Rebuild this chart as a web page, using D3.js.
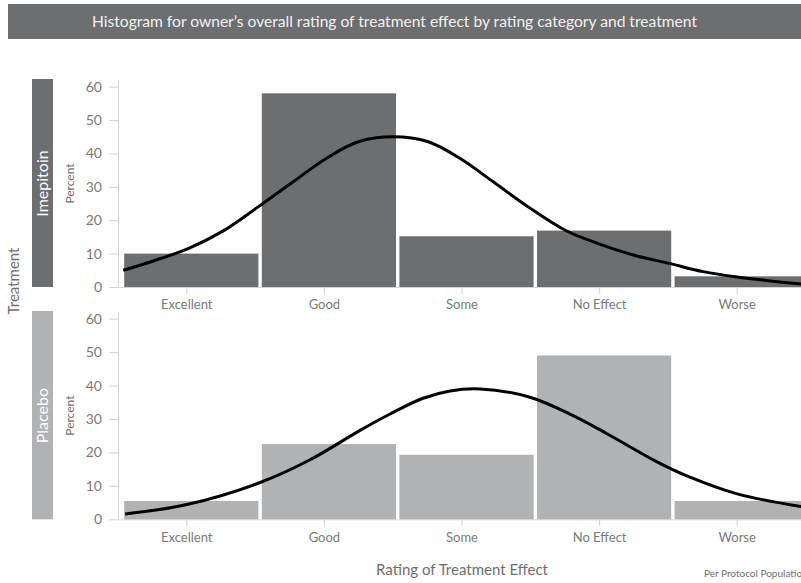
<!DOCTYPE html>
<html>
<head>
<meta charset="utf-8">
<script src="https://cdn.jsdelivr.net/npm/d3@7"></script>
<style>
  html, body { margin: 0; padding: 0; background: #fff; }
  svg { display: block; font-family: Lato, "Open Sans", sans-serif; }
</style>
</head>
<body>
<svg id="chart" width="801" height="583"></svg>
<script>
// Rating categories along the x axis
const categories = ["Excellent", "Good", "Some", "No Effect", "Worse"];

// Percent of owners per rating, one array per treatment group
const imepitoinPct = [10, 58, 15.2, 16.9, 3.2];
const placeboPct   = [5.5, 22.5, 19.3, 49, 5.5];

// Fitted curve, sampled along the rating scale (1 = Excellent ... 5 = Worse)
const imepitoinCurveX = [0.538, 0.756, 1.010, 1.265, 1.519, 1.773, 2.013, 2.246, 2.5, 2.754, 2.987, 3.227, 3.481, 3.75, 3.99, 4.244, 4.513, 4.753, 5.0, 5.465];
const imepitoinCurveY = [5.0, 7.8, 11.5, 16.8, 24, 31.5, 38.5, 43.5, 45, 43.5, 38.5, 31.5, 24, 17, 13, 9.6, 7.0, 4.6, 3.0, 0.9];
const placeboCurveX   = [0.552, 1.0, 1.533, 1.896, 2.259, 2.477, 2.717, 2.913, 3.131, 3.494, 3.807, 4.054, 4.417, 4.657, 5.0, 5.465];
const placeboCurveY   = [1.6, 4.4, 11.0, 17.8, 26.6, 31.5, 36.2, 38.4, 39.0, 36.5, 31.0, 25.6, 17.2, 12.6, 7.6, 3.8];

const yTicks = [0, 10, 20, 30, 40, 50, 60];

const panels = [
  { name: "Imepitoin", values: imepitoinPct, cx: imepitoinCurveX, cy: imepitoinCurveY,
    fill: "#6d6e70", top: 80, bottom: 287 },
  { name: "Placebo", values: placeboPct, cx: placeboCurveX, cy: placeboCurveY,
    fill: "#b1b2b4", top: 312, bottom: 519.3 }
];

const svg = d3.select("#chart");

// Title banner
svg.append("rect").attr("x", 8).attr("y", 4).attr("width", 793).attr("height", 35).attr("fill", "#6d6e70");
svg.append("text").attr("x", 92).attr("y", 27)
  .attr("fill", "#f2f2f2").attr("font-size", 15)
  .attr("textLength", 605).attr("lengthAdjust", "spacingAndGlyphs")
  .text("Histogram for owner\u2019s overall rating of treatment effect by rating category and treatment");

const left = 118, binW = 137.6;
const x = d3.scaleBand().domain(categories).range([left, left + binW * categories.length]).padding(0);
const xCurve = d3.scaleLinear().domain([0.5, categories.length + 0.5]).range([left, left + binW * categories.length]);

const axisGrey = "#d4d4d4", textGrey = "#7a7a7a";

panels.forEach(p => {
  const y = d3.scaleLinear().domain([0, 62]).range([p.bottom, p.top]);
  const g = svg.append("g");

  // Row strip label
  g.append("rect").attr("x", 32).attr("y", p.top - 1).attr("width", 21).attr("height", p.bottom - p.top + 1).attr("fill", p.fill);
  g.append("text")
    .attr("transform", `translate(48,${(p.top + p.bottom) / 2}) rotate(-90)`)
    .attr("text-anchor", "middle").attr("fill", "#fff").attr("font-size", 16)
    .text(p.name);

  // "Percent" label
  g.append("text")
    .attr("transform", `translate(74,${(p.top + p.bottom) / 2}) rotate(-90)`)
    .attr("text-anchor", "middle").attr("fill", "#6e6e6e").attr("font-size", 12)
    .text("Percent");

  // Y axis
  const yAxis = d3.axisLeft(y).tickValues(yTicks).tickSize(9).tickPadding(7).tickSizeOuter(0);
  const ya = g.append("g").attr("transform", `translate(${left},0)`).call(yAxis);
  ya.select(".domain").attr("stroke", axisGrey);
  ya.selectAll(".tick line").attr("stroke", axisGrey);
  ya.selectAll(".tick text").attr("fill", textGrey).attr("font-size", 14).attr("font-family", "Lato, sans-serif");

  // X axis
  const xAxis = d3.axisBottom(x).tickSize(7).tickPadding(6).tickSizeOuter(0);
  const xa = g.append("g").attr("transform", `translate(0,${p.bottom})`).call(xAxis);
  xa.select(".domain").attr("stroke", axisGrey);
  xa.selectAll(".tick line").attr("stroke", axisGrey);
  xa.selectAll(".tick text").attr("fill", textGrey).attr("font-size", 13).attr("font-family", "Lato, sans-serif");

  // Bars
  g.append("g").selectAll("rect").data(categories).join("rect")
    .attr("x", c => x(c) + 6.2)
    .attr("width", x.bandwidth() - 3.4)
    .attr("y", (c, i) => y(p.values[i]))
    .attr("height", (c, i) => y(0) - y(p.values[i]))
    .attr("fill", p.fill);

  // Fitted curve
  const pts = p.cx.map((v, i) => [v, p.cy[i]]);
  g.append("path").datum(pts)
    .attr("fill", "none").attr("stroke", "#000").attr("stroke-width", 3)
    .attr("d", d3.line().x(d => xCurve(d[0])).y(d => y(d[1])).curve(d3.curveCatmullRom.alpha(0.5)));
});

// Shared row title
svg.append("text")
  .attr("transform", "translate(19,281) rotate(-90)")
  .attr("text-anchor", "middle").attr("fill", "#6e6e6e").attr("font-size", 15)
  .text("Treatment");

// X axis title
svg.append("text").attr("x", 462).attr("y", 575)
  .attr("text-anchor", "middle").attr("fill", "#6e6e6e").attr("font-size", 15)
  .text("Rating of Treatment Effect");

svg.append("text").attr("x", 704).attr("y", 577)
  .attr("fill", "#6e6e6e").attr("font-size", 10)
  .text("Per Protocol Population");
</script>
</body>
</html>
